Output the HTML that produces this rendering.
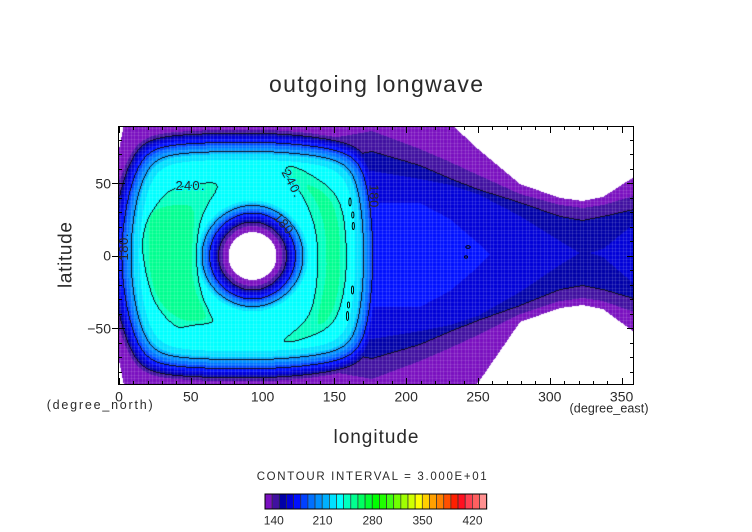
<!DOCTYPE html>
<html><head><meta charset="utf-8">
<style>
html,body{margin:0;padding:0;background:#fff;}
#wrap{position:relative;width:752px;height:532px;overflow:hidden;background:#fff;}
#c{position:absolute;left:119px;top:127px;}
#s{position:absolute;left:0;top:0;}
text{font-family:"Liberation Sans",Arial,sans-serif;fill:#2a2a2a;}
</style></head><body>
<div id="wrap">
<canvas id="c" width="514" height="257"></canvas>
<svg id="s" width="752" height="532" viewBox="0 0 752 532">
  <rect x="118.5" y="126.5" width="515" height="258" fill="none" stroke="#000" stroke-width="1"/>
  <path id="ticks" d="" stroke="#000" stroke-width="1" fill="none"/>
  <g fill="none" stroke="#000" stroke-width="0.9">
    <ellipse cx="350" cy="202" rx="1.1" ry="4"/>
    <ellipse cx="352.8" cy="215" rx="1.1" ry="3"/>
    <ellipse cx="353.3" cy="226" rx="1.1" ry="3.5"/>
    <ellipse cx="352.5" cy="290" rx="1.1" ry="4"/>
    <ellipse cx="348.5" cy="305" rx="1.1" ry="3"/>
    <ellipse cx="347.5" cy="316" rx="1.1" ry="4.5"/>
    <ellipse cx="468" cy="247" rx="2.2" ry="1.3"/>
    <ellipse cx="466" cy="257" rx="1.5" ry="1.2"/>
  </g>
  <text x="190" y="190" font-size="13" text-anchor="middle" textLength="29" fill="#000" stroke="#00f4ff" stroke-width="2" paint-order="stroke">240.</text>
  <text transform="translate(292,183) rotate(62)" x="0" y="4.5" font-size="13" text-anchor="middle" textLength="29" fill="#000" stroke="#00f4ff" stroke-width="2" paint-order="stroke">240.</text>
  <text transform="translate(285,225) rotate(50)" x="0" y="4.5" font-size="13" text-anchor="middle" textLength="27" fill="#000">180.</text>
  <text transform="translate(123.5,247) rotate(-90)" x="0" y="4.5" font-size="13" text-anchor="middle" textLength="27" fill="#000">180.</text>
  <text transform="translate(374,198) rotate(90)" x="0" y="4.5" font-size="13" text-anchor="middle" textLength="27" fill="#000">180.</text>

  <text x="376" y="92" font-size="23" text-anchor="middle" textLength="214" fill="#333">outgoing longwave</text>
  <text transform="translate(71.5,255) rotate(-90)" x="0" y="0" font-size="19" text-anchor="middle" textLength="66" fill="#333">latitude</text>
  <text x="376" y="443" font-size="19" text-anchor="middle" textLength="85" fill="#333">longitude</text>

  <g font-size="14" text-anchor="middle">
    <text x="119" y="401.5">0</text>
    <text x="190.8" y="401.5">50</text>
    <text x="262.6" y="401.5">100</text>
    <text x="334.4" y="401.5">150</text>
    <text x="406.2" y="401.5">200</text>
    <text x="478" y="401.5">250</text>
    <text x="549.8" y="401.5">300</text>
    <text x="621.6" y="401.5">350</text>
  </g>
  <g font-size="14" text-anchor="end">
    <text x="111" y="188.3">50</text>
    <text x="111" y="260.7">0</text>
    <text x="111" y="333.3">−50</text>
  </g>
  <text x="46.7" y="409" font-size="12.5" textLength="106">(degree_north)</text>
  <text x="569.5" y="412.5" font-size="12.5" textLength="79">(degree_east)</text>

  <text x="256.7" y="480" font-size="11.5" textLength="230" fill="#333">CONTOUR INTERVAL = 3.000E+01</text>

  <g id="cbar"></g>
  <rect x="265" y="494" width="221.7" height="15" fill="none" stroke="#000" stroke-width="1"/>
  <g font-size="12" text-anchor="middle" fill="#333">
    <text x="273.8" y="524.7">140</text>
    <text x="322.5" y="524.7">210</text>
    <text x="372.5" y="524.7">280</text>
    <text x="422.5" y="524.7">350</text>
    <text x="472.5" y="524.7">420</text>
  </g>
</svg>
</div>
<script>
(function(){
const Wd=514,Ht=257,OX=119,OY=127;
const hex=['7a10c0','4010a0','0000a8','0000d8','0010ff','0040ff','0070ff','0090ff','00b0ff','00e0ff','00ffff','00ffc0','00ff90','00ff60','00ff30','00ff00','20ff00','40ff10','70ff00','a0ff00','d0ff00','ffff00','ffd000','ffa000','ff8000','ff5000','ff2000','ff1020','ff4050','ff6060','ff9090'];
const pal=hex.map(h=>[parseInt(h.substr(0,2),16),parseInt(h.substr(2,2),16),parseInt(h.substr(4,2),16)]);

let cb='';
for(let k=0;k<31;k++){
  cb+='<rect x="'+(265+7.15*k).toFixed(2)+'" y="494" width="7.15" height="15" fill="#'+hex[k]+'" stroke="#333" stroke-width="0.7"/>';
}
document.getElementById('cbar').innerHTML=cb;

let d='';
for(let lon=0;lon<=350;lon+=10){
  const x=Math.round(119+lon*1.436)+0.5; const maj=lon%50===0; const L=maj?6:3;
  d+='M'+x+' 384V'+(384-L)+'M'+x+' 127V'+(127+L);
}
for(let lat=-80;lat<=80;lat+=10){
  const y=Math.round(255.7-lat*1.45)+0.5; const maj=lat%50===0; const L=maj?6:3;
  if(maj) d+='M112 '+y+'H119';
  d+='M119 '+y+'H'+(119+L)+'M633 '+y+'H'+(633-L);
}
document.getElementById('ticks').setAttribute('d',d);

function interp(xs,ys,x){
  const n=xs.length;
  if(x<=xs[0])return ys[0];
  if(x>=xs[n-1])return ys[n-1];
  for(let k=1;k<n;k++){ if(x<=xs[k]){const t=(x-xs[k-1])/(xs[k]-xs[k-1]);return ys[k-1]+t*(ys[k]-ys[k-1]);} }
  return ys[n-1];
}
const HR=[0,24,30,33.5,42.5,50,56,64,140], HV=[60,130,140,150,180,210,232,240,280];
function Pf(x,y){
  const ey=y-255.5, ex=x-247;
  const dl = x - (105.7 + 0.0019*ey*ey);
  const dr = (389 - 0.0012*ey*ey) - x;
  const cT = ex<0 ? 0.0004 : 0.0009;
  const dt = y - (126 + cT*ex*ex);
  const db = (385 - cT*ex*ex) - y;
  const k=11;
  const m=Math.min(dl,dr,dt,db);
  const s=Math.exp(-(dl-m)/k)+Math.exp(-(dr-m)/k)+Math.exp(-(dt-m)/k)+Math.exp(-(db-m)/k);
  let dd=m-k*Math.log(s);
  dd+= k*Math.log(1+2*Math.exp(-200/k))*0; 
  return dd<30 ? 128+3.3*dd : 227+13*(1-Math.exp(-(dd-30)/14));
}
function Hf(x,y){
  const r=Math.hypot(x-252.5,y-256);
  return interp(HR,HV,r);
}
const KX=[119,124,372,420,450,478,520,560,583,603,634];
const KY=[255,255,255,255,255,255,254,253,253,253,254];
const KW=[
[-40,-20,10,50,75,105,130],
[-20,0,30,55,80,130,155],
[-5,52,84,104,124,150,175],
[-8,52,76,90,106,142,167],
[-15,36,70,77,93,132,157],
[-40,12,61,66,80,106,131],
[-80,-30,38,52,60,70,95],
[-100,-50,12,37,48,55,80],
[-100,-60,-2,33,45,52,77],
[-100,-50,4,37,48,56,81],
[-80,-30,30,45,58,77,102]];
const KB=[105,130,150,150,150,128,68,55,52,56,78];
const LV=[180,170,160,150,140,130,120];
function Ef(x,y){
  let k=1; while(k<KX.length-1 && x>KX[k]) k++;
  let t=(x-KX[k-1])/(KX[k]-KX[k-1]); t=Math.max(0,Math.min(1,t));
  const a=KW[k-1].slice(), b=KW[k].slice();
  const yc=KY[k-1]+t*(KY[k]-KY[k-1]);
  if(y>yc){ a[5]=KB[k-1]; a[6]=KB[k-1]+25; b[5]=KB[k]; b[6]=KB[k]+25; }
  const dd=Math.abs(y-yc);
  let wp=a[0]+t*(b[0]-a[0]);
  if(dd<=wp) return 180+(wp-dd)*0.05;
  for(let m=1;m<7;m++){
    const w=a[m]+t*(b[m]-a[m]);
    if(dd<=w) return LV[m-1]-10*(dd-wp)/(w-wp);
    wp=w;
  }
  return 120-(dd-wp)*0.5;
}
const L1=[[160,200],[171,189],[190,185],[212,182],[218,185],[216,191],[209,201],[200,220],[196.5,243],[196.5,270],[201.5,296],[210,314],[214,322],[205,324],[186,326],[180,329],[169,321],[159,309],[152,296],[145,270],[141.5,243],[146.5,220]];
const G1=[[150,212],[165,206],[185,204],[195,208],[193,235],[191,265],[195,292],[204,310],[207,320],[188,322],[172,315],[158,300],[150,275],[148,240]];
const L2=[[285,167],[294,166],[313,176],[333,190],[343,210],[346.5,243],[346.5,277],[340,310],[330,327],[307,338],[287,343],[283,340],[293,333],[310,317],[316.5,290],[318,260],[316.5,230],[307,203],[297,187],[287,177]];
const G2=[[303,183],[318,188],[332,200],[339,225],[341,260],[338,295],[330,318],[316,328],[320,305],[326,280],[327,250],[324,222],[316,200]];
const mcv=document.createElement('canvas'); mcv.width=Wd; mcv.height=Ht;
const mc=mcv.getContext('2d');
function poly(c,pts){
  const n=pts.length;
  const mid=(p,q)=>[(p[0]+q[0])/2-OX,(p[1]+q[1])/2-OY];
  c.beginPath();
  const s=mid(pts[n-1],pts[0]); c.moveTo(s[0],s[1]);
  for(let i=0;i<n;i++){const p=pts[i],q=pts[(i+1)%n];const e=mid(p,q);c.quadraticCurveTo(p[0]-OX,p[1]-OY,e[0],e[1]);}
  c.closePath(); c.fill();
}
mc.fillStyle='#ff0000'; poly(mc,L1); poly(mc,L2);
mc.fillStyle='#00ff00'; poly(mc,G1); poly(mc,G2);
const md=mc.getImageData(0,0,Wd,Ht).data;

const F=new Float32Array(Wd*Ht);
for(let j=0;j<Ht;j++)for(let i=0;i<Wd;i++){
  const x=OX+i+0.5,y=OY+j+0.5;
  let v=Math.min(Math.max(Pf(x,y),Ef(x,y)),Hf(x,y));
  const p=(j*Wd+i)*4;
  if(md[p+1]>128) v=Math.max(v,255); else if(md[p]+md[p+1]>128) v=Math.max(v,245);
  F[j*Wd+i]=v;
}
const gc=new Uint8Array(Wd+2), gr=new Uint8Array(Ht+2);
for(let k=0;k*3.59<Wd;k++) gc[Math.round(k*3.59+1)]=1;
for(let k=0;k*3.625<Ht;k++) gr[Math.round(k*3.625+1)]=1;
const Lf=v=>Math.floor((v-120)/30);
const ctx=document.getElementById('c').getContext('2d');
const img=ctx.createImageData(Wd,Ht), D=img.data;
for(let j=0;j<Ht;j++)for(let i=0;i<Wd;i++){
  const idx=j*Wd+i, v=F[idx], p=idx*4;
  let r,g,b;
  if(v<130){r=g=b=255;}
  else{
    let s=Math.floor((v-130)/10); if(s>30)s=30;
    r=pal[s][0];g=pal[s][1];b=pal[s][2];
    const L=Lf(v); let line=false;
    const nb=[];
    if(i>0)nb.push(F[idx-1]); if(i<Wd-1)nb.push(F[idx+1]);
    if(j>0)nb.push(F[idx-Wd]); if(j<Ht-1)nb.push(F[idx+Wd]);
    for(const w of nb){const L2=Lf(w); if(L2<L && L2>=0){line=true;break;}}
    if(line){r=15;g=15;b=30;}
    else{
      let a=0;
      if(gc[i]) a+=0.15;
      if(gr[j]) a+=0.11;
      if(a>0){r=r+(255-r)*a;g=g+(255-g)*a;b=b+(255-b)*a;}
    }
  }
  D[p]=r;D[p+1]=g;D[p+2]=b;D[p+3]=255;
}
ctx.putImageData(img,0,0);
})();
</script>
</body></html>
